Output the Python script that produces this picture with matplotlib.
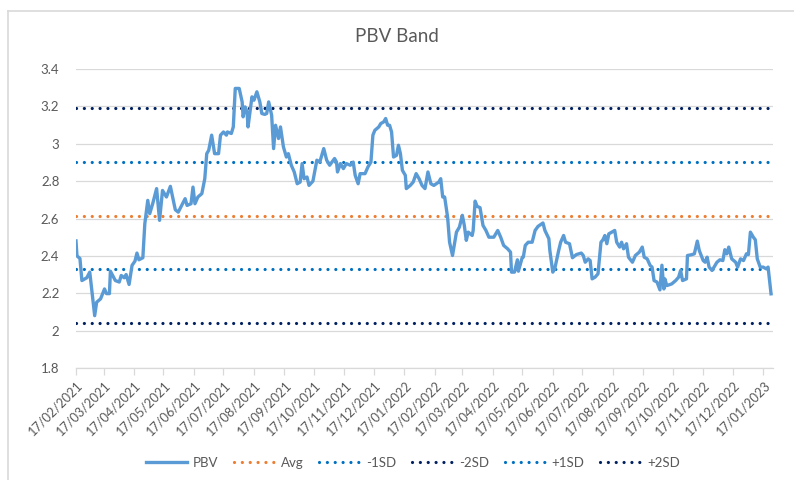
"""
PBV band chart: daily PBV with average and +/-1SD, +/-2SD bands.
"""

import numpy as np
import pandas as pd
import matplotlib
matplotlib.use("Agg")
import matplotlib.pyplot as plt
import matplotlib.dates as mdates
from matplotlib.lines import Line2D

plt.rcParams['font.family'] = ['Lato', 'DejaVu Sans']

START = '2021-02-17'

# days since 17/02/2021 and PBV
day = [0, 1, 4, 6, 11, 14, 19, 21, 25, 29, 31, 34, 35, 40, 44, 46, 49, 51, 54, 57,
       60, 62, 64, 68, 70, 73, 75, 78, 82, 85, 88, 92, 96, 101, 104, 111, 113, 117,
       119, 121, 124, 128, 131, 133, 135, 138, 141, 145, 147, 150, 153, 154, 158, 160,
       162, 166, 169, 170, 172, 174, 175, 179, 181, 184, 187, 189, 192, 194, 196, 199,
       201, 203, 206, 208, 211, 214, 216, 219, 222, 225, 228, 230, 232, 235, 237,
       241, 245, 248, 252, 255, 258, 263, 265, 266, 269, 272, 275, 279, 282, 284, 287,
       289, 294, 297, 300, 302, 304, 308, 310, 313, 315, 317, 319, 321, 323, 326, 328,
       330, 332, 335, 336, 340, 343, 346, 349, 352, 355, 358, 361, 364,
       369, 371, 373, 375, 378, 380, 383, 387, 390, 393, 395, 397, 399, 403, 404, 406,
       408, 411, 414, 417, 420, 425, 429, 432, 435, 439, 442, 443, 446, 449, 450, 454,
       455, 457, 460, 464, 467, 470, 475, 477, 481, 482, 485, 487, 491,
       493, 496, 498, 502, 505, 509, 514, 516, 518, 521, 523, 525, 528, 531, 534, 536,
       538, 540, 542, 545, 548, 550, 553, 555, 557, 560, 562, 566, 569, 573, 576, 578,
       581, 584, 586, 588, 591, 594, 596, 598, 599, 601, 606, 610, 613, 615, 617, 621,
       622, 626, 629, 632, 634, 638, 640, 642, 644, 647, 649, 652, 655, 658, 660, 662,
       664, 667, 671, 673, 676, 679, 682, 684, 686, 689, 691, 693, 696, 699, 702, 704, 707]

pbv = [2.48, 2.40, 2.386, 2.268, 2.283, 2.313, 2.08, 2.152, 2.17, 2.223, 2.198, 2.198, 2.318,
       2.268, 2.26, 2.295, 2.283, 2.30, 2.247, 2.349,
       2.372, 2.415, 2.379, 2.39, 2.572, 2.697, 2.626, 2.679, 2.76, 2.59, 2.75, 2.715, 2.772,
       2.647, 2.634, 2.706, 2.67, 2.679,
       2.768, 2.679, 2.715, 2.733, 2.813, 2.947, 2.965, 3.046, 2.947, 2.947, 3.046, 3.063,
       3.046, 3.063, 3.055, 3.09,
       3.296, 3.296, 3.224, 3.144, 3.197, 3.17, 3.09, 3.251, 3.233, 3.278, 3.224, 3.162,
       3.157, 3.162, 3.224, 3.153,
       2.974, 3.099, 3.028, 3.09, 2.983, 2.929, 2.947, 2.885, 2.849, 2.786, 2.795, 2.894,
       2.813, 2.822, 2.777,
       2.80, 2.912, 2.902, 2.974, 2.912, 2.885, 2.921, 2.902, 2.849, 2.894, 2.867, 2.894,
       2.885, 2.902, 2.831, 2.786,
       2.84, 2.84, 2.876, 2.902, 3.046, 3.072, 3.09, 3.108, 3.117, 3.135, 3.099, 3.099,
       3.063, 2.929, 2.938, 2.992,
       2.947, 2.858, 2.831, 2.76, 2.777, 2.795, 2.84, 2.813, 2.777, 2.76, 2.849, 2.786, 2.777,
       2.795, 2.813, 2.715, 2.715, 2.607, 2.473, 2.402, 2.527, 2.554, 2.617, 2.563, 2.483,
       2.527, 2.509, 2.536, 2.693,
       2.665, 2.658, 2.563, 2.536, 2.50, 2.50, 2.536, 2.50, 2.456, 2.438, 2.42, 2.313, 2.313,
       2.379, 2.318, 2.393,
       2.393, 2.456, 2.473, 2.473, 2.536, 2.558, 2.576, 2.536, 2.492, 2.429, 2.313, 2.331, 2.429,
       2.473, 2.509, 2.473, 2.465, 2.39, 2.407, 2.415, 2.402, 2.366, 2.384, 2.375, 2.277,
       2.286, 2.304, 2.473, 2.486,
       2.509, 2.465, 2.518, 2.527, 2.536, 2.473, 2.447, 2.473, 2.438, 2.465, 2.393, 2.366,
       2.402, 2.42, 2.447, 2.393,
       2.384, 2.349, 2.34, 2.268, 2.26, 2.218, 2.35, 2.223, 2.277, 2.241, 2.25, 2.268, 2.286,
       2.322, 2.268, 2.277,
       2.402, 2.406, 2.411, 2.479, 2.429, 2.375, 2.366, 2.393, 2.34, 2.322, 2.34, 2.366,
       2.379, 2.375, 2.433, 2.411,
       2.447, 2.384, 2.366, 2.34, 2.384, 2.375, 2.411, 2.407, 2.527, 2.50, 2.486, 2.384,
       2.34, 2.34, 2.331, 2.34, 2.197]

avg = 2.616
sd = 0.288

band_names = ['Avg', '-1SD', '-2SD', '+1SD', '+2SD']
band_mult = [0, -1, -2, 1, 2]
band_colors = ['#ED7D31', '#0070C0', '#002060', '#0070C0', '#002060']

y_ticks = [1.8, 2.0, 2.2, 2.4, 2.6, 2.8, 3.0, 3.2, 3.4]

dates = pd.Timestamp(START) + pd.to_timedelta(day, unit='D')
x_ticks = pd.date_range(START, periods=24, freq=pd.DateOffset(months=1))

grey_text = '#595959'

fig = plt.figure(figsize=(7.94, 4.8), dpi=100)
ax = fig.add_axes([76 / 794, 1 - 368 / 480, (773 - 76) / 794, (368 - 69) / 480])

# outer chart border (only left and top edges fall inside the crop)
fig.add_artist(Line2D([8 / 794, 8 / 794], [0, 1 - 11 / 480], color='#D9D9D9', lw=1.2))
fig.add_artist(Line2D([8 / 794, 1], [1 - 11 / 480, 1 - 11 / 480], color='#D9D9D9', lw=1.2))

ax.plot(dates, pbv, color='#5B9BD5', lw=2.4, label='PBV', zorder=4,
        solid_joinstyle='round')

for name, m, c in zip(band_names, band_mult, band_colors):
    level = np.full(len(dates), avg + m * sd)
    ax.plot(dates, level, color=c, lw=2.3, linestyle=(0, (0.01, 2.45)),
            dash_capstyle='round', label=name, zorder=3)

ax.set_ylim(1.8, 3.4)
ax.set_yticks(y_ticks)
ax.set_yticklabels([f'{v:g}' for v in y_ticks])
ax.set_xlim(pd.Timestamp(START), pd.Timestamp(START) + pd.Timedelta(days=709))
ax.set_xticks(x_ticks)
ax.xaxis.set_major_formatter(mdates.DateFormatter('%d/%m/%Y'))

ax.grid(axis='y', color='#D9D9D9', lw=0.9)
ax.set_axisbelow(True)
for s in ['top', 'right', 'left']:
    ax.spines[s].set_visible(False)
ax.spines['bottom'].set_color('#D9D9D9')
ax.spines['bottom'].set_linewidth(0.9)

ax.tick_params(axis='y', length=0, pad=12, labelsize=9.5, labelcolor=grey_text)
ax.tick_params(axis='x', length=5, width=0.9, color='#D9D9D9', pad=3,
               labelsize=9.2, labelcolor=grey_text)
for lbl in ax.get_xticklabels():
    lbl.set_rotation(45)
    lbl.set_ha('right')
    lbl.set_va('top')
    lbl.set_rotation_mode('anchor')

fig.text(0.5, 1 - 37 / 480, 'PBV Band', ha='center', va='center',
         fontsize=13.5, color=grey_text)

fig.legend(loc='center', bbox_to_anchor=(0.52, 1 - 463 / 480), ncol=6, frameon=False,
           handlelength=3.1, columnspacing=1.2, handletextpad=0.45,
           fontsize=9.5, labelcolor=grey_text)

fig.savefig('out.png', dpi=100)
